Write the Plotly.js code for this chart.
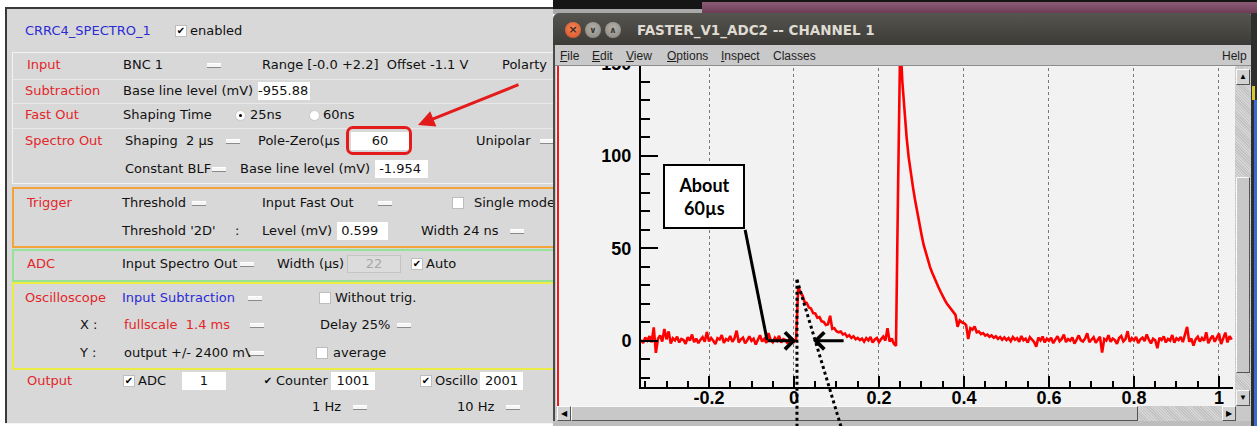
<!DOCTYPE html>
<html><head><meta charset="utf-8">
<script src="https://cdn.plot.ly/plotly-3.0.1.min.js"></script>
<style>
html,body{margin:0;padding:0;background:#fff;width:1257px;height:426px;overflow:hidden;position:relative;}
.a{position:absolute;}
.t{position:absolute;font-family:'DejaVu Sans',sans-serif;font-size:13px;line-height:16px;white-space:nowrap;color:#111;}
.r{color:#e3262a}
.b{color:#2b2bd6}
.dd{position:absolute;width:14px;height:3px;background:#f6f6f6;border-bottom:1px solid #8a8a8a;border-top:1px solid #fff;}
.cb{position:absolute;width:10px;height:10px;background:#fff;border:1px solid #bdbdbd;font-family:'DejaVu Sans';font-size:10px;line-height:10px;text-align:center;color:#000;font-weight:bold;}
.rb{position:absolute;width:9px;height:9px;border-radius:50%;background:#fff;border:1px solid #c8c8c8;}
.in{position:absolute;height:18px;background:#fff;font-family:'DejaVu Sans';font-size:13px;line-height:18px;white-space:nowrap;color:#111;}
.btn{position:absolute;background:#d2d2d2;border-top:1px solid #fafafa;border-left:1px solid #fafafa;border-right:1px solid #555;border-bottom:1px solid #555;box-sizing:border-box;font-size:8px;line-height:13px;text-align:center;color:#000;}
.hatch{background:repeating-linear-gradient(45deg,#d6d6d6 0 1px,#c2c2c2 1px 2px);}
.menu{position:absolute;top:48px;font-family:'Liberation Sans',sans-serif;font-size:12px;line-height:16px;color:#1e1e1e;white-space:nowrap;}
.ul::first-letter{text-decoration:underline;}
</style>
</head><body>

<!-- LEFT CONTROL PANEL -->
<div class="a" style="left:0;top:0;width:553px;height:426px;overflow:hidden;">
  <div class="a" style="left:5px;top:7px;width:600px;height:414px;background:#d8d8d8;border-left:2px solid #3a3a3a;border-top:2px solid #3a3a3a;"></div>
  <div class="a" style="left:5px;top:423px;width:600px;height:1px;background:#f4f4f4;"></div>
  <!-- boxes -->
  <div class="a" style="left:12px;top:52px;width:600px;height:130px;border:1px solid #f3f3f3;"></div>
  <div class="a" style="left:13px;top:79px;width:600px;height:1px;background:#e9e9e9;"></div>
  <div class="a" style="left:13px;top:103px;width:600px;height:1px;background:#e9e9e9;"></div>
  <div class="a" style="left:13px;top:128px;width:600px;height:1px;background:#e9e9e9;"></div>
  <div class="a" style="left:12px;top:187px;width:600px;height:57px;border:2px solid #f2a43a;"></div>
  <div class="a" style="left:12px;top:249px;width:600px;height:29px;border:2px solid #98e298;"></div>
  <div class="a" style="left:12px;top:282px;width:600px;height:84px;border:2px solid #ecec46;"></div>

  <!-- header -->
  <div class="t b" style="left:25px;top:23px;">CRRC4_SPECTRO_1</div>
  <div class="cb" style="left:175px;top:25px;">✔</div>
  <div class="t" style="left:190px;top:23px;">enabled</div>

  <!-- Input -->
  <div class="t r" style="left:27px;top:57px;">Input</div>
  <div class="t" style="left:123px;top:57px;">BNC 1</div>
  <div class="dd" style="left:207px;top:63px;"></div>
  <div class="t" style="left:262px;top:57px;">Range [-0.0 +2.2]&nbsp; Offset -1.1 V</div>
  <div class="t" style="left:502px;top:57px;">Polarty</div>

  <!-- Subtraction -->
  <div class="t r" style="left:25px;top:83px;">Subtraction</div>
  <div class="t" style="left:123px;top:83px;">Base line level (mV)</div>
  <div class="in" style="left:258px;top:82px;width:52px;">-955.88</div>

  <!-- Fast Out -->
  <div class="t r" style="left:25px;top:107px;">Fast Out</div>
  <div class="t" style="left:123px;top:107px;">Shaping Time</div>
  <div class="rb" style="left:235px;top:110px;"><div class="a" style="left:3px;top:3px;width:3px;height:3px;border-radius:50%;background:#000;"></div></div>
  <div class="t" style="left:250px;top:107px;">25ns</div>
  <div class="rb" style="left:309px;top:110px;"></div>
  <div class="t" style="left:323px;top:107px;">60ns</div>

  <!-- Spectro Out -->
  <div class="t r" style="left:25px;top:133px;">Spectro Out</div>
  <div class="t" style="left:125px;top:133px;">Shaping&nbsp; 2 µs</div>
  <div class="dd" style="left:226px;top:139px;"></div>
  <div class="t" style="left:258px;top:133px;">Pole-Zero(µs</div>
  <div class="in" style="left:351px;top:132px;width:58px;text-align:center;">60</div>
  <div class="a" style="left:346px;top:126px;width:60px;height:23px;border:3px solid #e41b1b;border-radius:7px;"></div>
  <div class="t" style="left:476px;top:133px;">Unipolar</div>
  <div class="dd" style="left:540px;top:139px;"></div>

  <!-- Constant BLF -->
  <div class="t" style="left:125px;top:161px;width:90px;overflow:hidden;">Constant BLF</div>
  <div class="dd" style="left:212px;top:167px;"></div>
  <div class="t" style="left:240px;top:161px;">Base line level (mV)</div>
  <div class="in" style="left:375px;top:160px;width:53px;">&nbsp;-1.954</div>

  <!-- Trigger -->
  <div class="t r" style="left:27px;top:195px;">Trigger</div>
  <div class="t" style="left:122px;top:195px;">Threshold</div>
  <div class="dd" style="left:192px;top:201px;"></div>
  <div class="t" style="left:262px;top:195px;">Input Fast Out</div>
  <div class="dd" style="left:378px;top:201px;"></div>
  <div class="cb" style="left:452px;top:197px;"></div>
  <div class="t" style="left:474px;top:195px;">Single mode</div>
  <div class="t" style="left:122px;top:223px;">Threshold '2D'</div>
  <div class="t" style="left:235px;top:223px;">:</div>
  <div class="t" style="left:262px;top:223px;">Level (mV)</div>
  <div class="in" style="left:337px;top:222px;width:51px;">&nbsp;0.599</div>
  <div class="t" style="left:421px;top:223px;">Width 24 ns</div>
  <div class="dd" style="left:510px;top:229px;"></div>

  <!-- ADC -->
  <div class="t r" style="left:27px;top:256px;">ADC</div>
  <div class="t" style="left:122px;top:256px;">Input Spectro Out</div>
  <div class="dd" style="left:240px;top:262px;"></div>
  <div class="t" style="left:277px;top:256px;">Width (µs)</div>
  <div class="in" style="left:347px;top:255px;width:54px;background:#dcdcdc;border:1px solid #c4c4c4;box-sizing:border-box;color:#a8a8a8;text-align:center;line-height:16px;">22</div>
  <div class="cb" style="left:411px;top:258px;">✔</div>
  <div class="t" style="left:426px;top:256px;">Auto</div>

  <!-- Oscilloscope -->
  <div class="t r" style="left:25px;top:290px;">Oscilloscope</div>
  <div class="t b" style="left:122px;top:290px;">Input Subtraction</div>
  <div class="dd" style="left:248px;top:296px;"></div>
  <div class="cb" style="left:319px;top:292px;"></div>
  <div class="t" style="left:335px;top:290px;">Without trig.</div>
  <div class="t" style="left:80px;top:317px;">X :</div>
  <div class="t r" style="left:124px;top:317px;">fullscale&nbsp; 1.4 ms</div>
  <div class="dd" style="left:250px;top:323px;"></div>
  <div class="t" style="left:320px;top:317px;">Delay 25%</div>
  <div class="dd" style="left:397px;top:323px;"></div>
  <div class="t" style="left:80px;top:345px;">Y :</div>
  <div class="t" style="left:124px;top:345px;width:127px;overflow:hidden;">output +/- 2400 mV</div>
  <div class="dd" style="left:250px;top:351px;"></div>
  <div class="cb" style="left:316px;top:347px;"></div>
  <div class="t" style="left:333px;top:345px;">average</div>

  <!-- Output -->
  <div class="t r" style="left:27px;top:373px;">Output</div>
  <div class="cb" style="left:123px;top:375px;">✔</div>
  <div class="t" style="left:138px;top:373px;">ADC</div>
  <div class="in" style="left:182px;top:372px;width:44px;text-align:center;">1</div>
  <div class="cb" style="left:262px;top:375px;border-color:#d8d8d8;background:#d8d8d8;">✔</div>
  <div class="t" style="left:276px;top:373px;">Counter</div>
  <div class="in" style="left:331px;top:372px;width:44px;text-align:center;">1001</div>
  <div class="cb" style="left:420px;top:375px;">✔</div>
  <div class="t" style="left:435px;top:373px;width:45px;overflow:hidden;">Oscillo</div>
  <div class="in" style="left:480px;top:372px;width:43px;text-align:center;">2001</div>
  <div class="t" style="left:312px;top:399px;">1 Hz</div>
  <div class="dd" style="left:353px;top:405px;"></div>
  <div class="t" style="left:457px;top:399px;">10 Hz</div>
  <div class="dd" style="left:506px;top:405px;"></div>
</div>

<!-- RIGHT WINDOW CHROME -->
<div class="a" style="left:553px;top:0;width:704px;height:14px;background:#151515;"></div>
<div class="a" style="left:702px;top:2px;width:555px;height:12px;background:linear-gradient(#8d5b76,#6a3a55);"></div>
<div class="a" style="left:553px;top:9px;width:149px;height:5px;background:#a9a9a9;"></div>
<div class="a" style="left:553px;top:13px;width:700px;height:32px;background:linear-gradient(#55544f,#3c3b37);border-radius:6px 6px 0 0;"></div>
<div class="a" style="left:565px;top:22px;width:16px;height:16px;border-radius:50%;background:radial-gradient(circle at 50% 40%,#f58a5c,#d44a1e);color:#3a2a20;font:bold 11px 'DejaVu Sans';line-height:16px;text-align:center;">×</div>
<div class="a" style="left:585px;top:22px;width:16px;height:16px;border-radius:50%;background:radial-gradient(circle at 50% 40%,#b6b3ad,#85827c);color:#3c3b37;font:bold 9px 'DejaVu Sans';line-height:16px;text-align:center;">∨</div>
<div class="a" style="left:605px;top:22px;width:16px;height:16px;border-radius:50%;background:radial-gradient(circle at 50% 40%,#b6b3ad,#85827c);color:#3c3b37;font:bold 9px 'DejaVu Sans';line-height:16px;text-align:center;">∧</div>
<div class="a" style="left:637px;top:21px;font:bold 13.5px 'DejaVu Sans';line-height:18px;color:#dfdbd2;white-space:nowrap;">FASTER_V1_ADC2 -- CHANNEL 1</div>

<div class="a" style="left:553px;top:45px;width:700px;height:381px;background:#c9c9c9;"></div>
<div class="a" style="left:553px;top:45px;width:2px;height:381px;background:#4a4a4a;"></div>
<div class="a" style="left:555px;top:65px;width:698px;height:1px;background:#8d8d8d;"></div>
<div class="menu ul" style="left:560px;">File</div>
<div class="menu ul" style="left:592px;">Edit</div>
<div class="menu ul" style="left:626px;">View</div>
<div class="menu ul" style="left:667px;">Options</div>
<div class="menu ul" style="left:721px;">Inspect</div>
<div class="menu" style="left:773px;">Classes</div>
<div class="menu" style="left:1222px;">Help</div>

<!-- canvas -->
<div class="a" style="left:556px;top:66px;width:680px;height:340px;background:#f2f2f2;"></div>
<div class="a" style="left:557px;top:66px;width:2px;height:340px;background:#ee1c1c;"></div>
<!-- vertical scrollbar -->
<div class="a hatch" style="left:1235px;top:67px;width:16px;height:339px;"></div>
<div class="btn" style="left:1236px;top:69px;width:14px;height:16px;">▲</div>
<div class="btn" style="left:1236px;top:177px;width:14px;height:196px;background:#c8c8c8;"></div>
<div class="btn" style="left:1236px;top:390px;width:14px;height:16px;">▼</div>
<!-- horizontal scrollbar -->
<div class="a hatch" style="left:556px;top:406px;width:680px;height:15px;"></div>
<div class="btn" style="left:557px;top:406px;width:14px;height:15px;">◀</div>
<div class="btn" style="left:571px;top:406px;width:567px;height:15px;background:#c8c8c8;"></div>
<div class="btn" style="left:1222px;top:406px;width:14px;height:15px;">▶</div>
<div class="a" style="left:1236px;top:406px;width:15px;height:15px;background:#c9c9c9;"></div>
<div class="a" style="left:553px;top:421px;width:704px;height:5px;background:#bdbdbd;"></div>
<!-- desktop edge -->
<div class="a" style="left:1251px;top:13px;width:6px;height:413px;background:#2e2e2e;"></div>
<div class="a" style="left:1252px;top:86px;width:3px;height:14px;background:#d8c838;"></div>
<div class="a" style="left:1254px;top:100px;width:3px;height:326px;background:#3c6ad0;"></div>

<!-- PLOT -->
<div class="a" style="left:0;top:66px;width:1257px;height:360px;overflow:hidden;">
  <div id="plot" class="a" style="left:0;top:-16px;width:1257px;height:376px;"></div>
</div>

<script>
// ---- data ----
const timeStart = -0.36;      // first sample time
const sampleStep = 0.005;     // sample spacing
// baseline before first pulse: t = -0.360 ... 0.005
const baselinePre = [
  0.5,-1.2,1.8,0.2,2.5,-0.8,7.2,-6.5,1.1,2.9,
  -0.4,6.4,0.8,5.1,-1.5,1.3,0.2,2.2,-0.9,1.0,
  0.4,-1.6,1.9,0.1,3.4,-0.7,1.2,-1.3,0.6,2.0,
  -0.5,4.8,-0.3,1.5,0.0,-1.8,1.4,0.7,3.1,-1.1,
  0.9,0.2,2.6,-0.6,1.3,5.5,-0.9,0.8,1.7,-1.4,
  0.3,2.4,0.0,1.1,-2.0,0.6,3.0,-0.4,1.0,-1.2,
  4.2,0.5,-0.8,1.6,0.1,2.7,-1.0,0.9,0.4,-1.5,
  1.8,0.2,-0.6,0.8
];
// small pulse: t = 0.010 ... 0.160
const smallPulse = [
  29.5,26.0,24.5,21.0,20.5,18.0,17.5,15.0,14.8,12.5,
  12.8,10.5,10.2,8.6,9.0,13.5,6.5,6.8,5.2,4.6,
  5.0,3.4,3.9,2.2,3.0,1.5,2.4,0.8,1.6,0.4,1.2
];
// baseline between pulses: t = 0.165 ... 0.240
const baselineMid = [
  -0.5,1.4,0.2,2.1,-1.0,0.7,1.5,-0.8,0.9,2.3,
  0.1,6.8,-0.4,1.2,-1.6,-2.8
];
// large pulse: t = 0.245 ... 0.500
const bigPulse = [
  84,163,140,122,110,99,90,83,76,69,
  63,57.5,52,47.5,43.5,40,37,34,31.5,29,
  26.5,24,22,20,18.5,17,15.5,
  14.0,7.6,11.0,10.0,9.5,8.5,1.0,6.8,6.0,7.8,
  4.6,5.0,3.6,4.2,2.8,3.4,2.2,2.9,1.6,2.4,
  1.0,2.0,0.6,1.8,0.4
];
// baseline after: t = 0.505 ... 1.030
const baselinePost = [
  1.5,-0.2,2.0,0.6,1.4,-0.5,2.6,0.3,1.1,-1.0,
  1.9,0.5,-0.6,-3.2,1.7,0.2,2.3,-0.9,1.2,0.0,
  1.6,-1.3,0.8,2.5,-0.2,1.0,3.3,-0.7,0.9,0.1,
  1.8,-1.5,0.6,2.9,0.3,-0.4,1.3,4.1,-0.8,0.7,
  1.9,-1.1,0.5,2.2,-6.4,1.0,0.2,3.0,-0.6,1.2,
  0.4,-1.7,1.5,2.6,-0.3,0.9,5.2,-0.5,1.4,0.2,
  2.1,-1.2,0.8,1.7,-0.1,3.4,0.6,-1.4,1.1,0.3,
  -4.0,1.6,0.5,2.4,-0.9,1.0,0.1,3.1,-1.0,1.3,
  0.4,2.0,-0.7,4.0,7.5,-0.6,1.2,-2.6,0.8,2.2,
  -0.4,1.5,0.0,4.6,-1.3,1.1,2.8,-0.5,1.7,3.9,
  -1.8,1.4,4.4,-0.9,2.5,0.6
];
const xTickVals = [-0.2, 0, 0.2, 0.4, 0.6, 0.8, 1];
const xTickText = ['-0.2', '0', '0.2', '0.4', '0.6', '0.8', '1'];
const yTickVals = [0, 50, 100, 150];
const yTickText = ['0', '50', '100', '150'];
const xRange = [-0.36, 1.033];
const yRange = [-25, 157.3];
const noteText = 'About<br>60µs';

const signal = [].concat(baselinePre, smallPulse, baselineMid, bigPulse, baselinePost);

// helpers for overlay geometry
const xPaper = v => (v - xRange[0]) / (xRange[1] - xRange[0]);
const yPaper = v => (v - yRange[0]) / (yRange[1] - yRange[0]);
const M = {l: 641, r: 24, t: 0, b: 39};
const W = 1257, H = 376;
const pxX = p => (p - M.l) / (W - M.l - M.r);
const pxY = p => ((H - M.b) - (p - 50)) / (H - M.t - M.b); // page y -> paper

const axisFont = {family: 'Liberation Sans, Arial, sans-serif', size: 18, color: '#000', weight: 'bold'};

const trace = {
  type: 'scatter', mode: 'lines',
  x0: timeStart, dx: sampleStep, y: signal,
  line: {color: '#ff0000', width: 2.6},
  hoverinfo: 'skip'
};

const layout = {
  width: W, height: H,
  margin: {l: M.l, r: M.r, t: M.t, b: M.b, pad: 0},
  paper_bgcolor: 'rgba(0,0,0,0)', plot_bgcolor: 'rgba(0,0,0,0)',
  showlegend: false,
  xaxis: {
    range: xRange, tickmode: 'array', tickvals: xTickVals, ticktext: xTickText,
    ticks: 'inside', ticklen: 11, tickwidth: 2, tickcolor: '#000',
    showline: true, linecolor: '#000', linewidth: 2,
    showgrid: true, gridcolor: '#777', gridwidth: 1, griddash: 'dot',
    zeroline: false, tickfont: axisFont, ticklabelstandoff: -7,
    minor: {tickmode: 'linear', tick0: 0, dtick: 0.05, ticks: 'inside', ticklen: 6, tickwidth: 2, tickcolor: '#000', showgrid: false}
  },
  yaxis: {
    range: yRange, tickmode: 'array', tickvals: yTickVals, ticktext: yTickText,
    ticks: 'inside', ticklen: 17, tickwidth: 2, tickcolor: '#000',
    showline: true, linecolor: '#000', linewidth: 2,
    showgrid: false, zeroline: false, tickfont: axisFont, ticklabelstandoff: 4,
    minor: {tickmode: 'linear', tick0: 0, dtick: 10, ticks: 'inside', ticklen: 9, tickwidth: 2, tickcolor: '#000', showgrid: false}
  },
  shapes: [
    // leader line from the note box
    {type: 'line', xref: 'x', yref: 'y', x0: -0.115, y0: 60, x1: -0.0635, y1: 0.5,
     line: {color: '#000', width: 3}, layer: 'above'},
    // dotted guide lines of the pulse
    {type: 'line', xref: 'paper', yref: 'paper', x0: xPaper(0.007), y0: yPaper(33), x1: xPaper(0.007), y1: pxY(430),
     line: {color: '#000', width: 3, dash: 'dot'}, layer: 'above'},
    {type: 'line', xref: 'paper', yref: 'paper', x0: xPaper(0.007), y0: yPaper(33), x1: xPaper(0.113), y1: pxY(430),
     line: {color: '#000', width: 3, dash: 'dot'}, layer: 'above'}
  ],
  annotations: [
    {xref: 'x', yref: 'y', x: -0.212, y: 78, text: noteText, showarrow: false,
     font: {family: 'Lato, Open Sans, sans-serif', size: 18, color: '#000', weight: 'bold'},
     bgcolor: '#fff', bordercolor: '#000', borderwidth: 2, borderpad: 0, width: 78, height: 61},
    {xref: 'x', yref: 'y', x: 0.005, y: 0, ax: -30, ay: 0, text: '', showarrow: true,
     arrowhead: 4, arrowsize: 1.1, arrowwidth: 3, arrowcolor: '#000'},
    {xref: 'x', yref: 'y', x: 0.045, y: 0, ax: 32, ay: 0, text: '', showarrow: true,
     arrowhead: 4, arrowsize: 1.1, arrowwidth: 3, arrowcolor: '#000'},
    // red pointer to the Pole-Zero field
    {xref: 'paper', yref: 'paper', x: pxX(418), y: pxY(125), ax: 102, ay: -41, text: '', showarrow: true,
     arrowhead: 2, arrowsize: 1.1, arrowwidth: 3, arrowcolor: '#e41b1b'}
  ]
};

Plotly.newPlot('plot', [trace], layout, {displayModeBar: false, staticPlot: true});
</script>
</body></html>
